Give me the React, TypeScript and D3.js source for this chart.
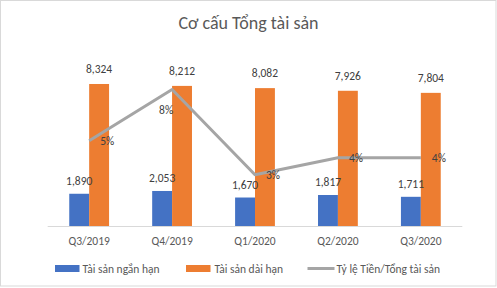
import React from "react";
import * as d3 from "d3";

const categories = ["Q3/2019", "Q4/2019", "Q1/2020", "Q2/2020", "Q3/2020"];
const shortTerm = [1890, 2053, 1670, 1817, 1711];
const longTerm = [8324, 8212, 8082, 7926, 7804];
const cashRatio = [0.05, 0.08, 0.03, 0.04, 0.04];
const seriesNames = ["Tài sản ngắn hạn", "Tài sản dài hạn", "Tỷ lệ Tiền/Tổng tài sản"];
const title = "Cơ cấu Tổng tài sản";

const W = 497;
const H = 288;
const FONT = "Calibri, Carlito, Lato, sans-serif";
const BLUE = "#4472C4";
const ORANGE = "#ED7D31";
const GREY = "#A5A5A5";

export default function App() {
  const left = 47.7, right = 462.3, top = 55.4, bottom = 226;
  const x0 = d3.scaleBand<string>().domain(categories).range([left, right]).paddingInner(0.52).paddingOuter(0.26);
  const x1 = d3.scaleBand<string>().domain(["s", "l"]).range([0, x0.bandwidth()]);
  const y = d3.scaleLinear().domain([0, 10000]).range([bottom, top]);
  const y2 = d3.scaleLinear().domain([0, 0.1]).range([bottom, top]);
  const cx = (c: string) => (x0(c) as number) + x0.bandwidth() / 2;
  const line = d3.line<number>().x((_, i) => cx(categories[i])).y((d) => y2(d));
  const fmt = d3.format(",");
  const pct = d3.format(".0%");
  const labelPos = ["right", "below", "right", "right", "right"];

  return (
    <svg width={W} height={H} style={{ position: "absolute", left: 0, top: 0, background: "#fff" }} fontFamily={FONT}>
      <rect x={0.5} y={0.5} width={495.5} height={285.5} fill="#fff" stroke="#d9d9d9" />
      <text x={248.5} y={28.5} textAnchor="middle" fontSize={18} fill="#595959">{title}</text>
      {categories.map((c, i) => (
        <g key={c}>
          <rect x={(x0(c) as number) + (x1("s") as number)} y={y(shortTerm[i])} width={x1.bandwidth()} height={bottom - y(shortTerm[i])} fill={BLUE} />
          <rect x={(x0(c) as number) + (x1("l") as number)} y={y(longTerm[i])} width={x1.bandwidth()} height={bottom - y(longTerm[i])} fill={ORANGE} />
        </g>
      ))}
      <line x1={left} x2={right} y1={bottom + 0.5} y2={bottom + 0.5} stroke="#d9d9d9" />
      {categories.map((c) => (
        <text key={c} x={cx(c)} y={245} textAnchor="middle" fontSize={11.5} fill="#595959">{c}</text>
      ))}
      <path d={line(cashRatio) || ""} fill="none" stroke={GREY} strokeWidth={3} strokeLinejoin="round" />
      {categories.map((c, i) => (
        <g key={c} fontSize={11.5} fill="#404040">
          <text x={(x0(c) as number) + (x1("s") as number) + x1.bandwidth() / 2} y={y(shortTerm[i]) - 9} textAnchor="middle">{fmt(shortTerm[i])}</text>
          <text x={(x0(c) as number) + (x1("l") as number) + x1.bandwidth() / 2} y={y(longTerm[i]) - 11} textAnchor="middle">{fmt(longTerm[i])}</text>
          {labelPos[i] === "right" ? (
            <text x={cx(c) + 11} y={y2(cashRatio[i])} dy="0.35em" textAnchor="start">{pct(cashRatio[i])}</text>
          ) : (
            <text x={cx(c) - 6} y={y2(cashRatio[i]) + 20} dy="0.35em" textAnchor="middle">{pct(cashRatio[i])}</text>
          )}
        </g>
      ))}
      <g fontSize={11.5} fill="#595959">
        <rect x={55} y={265} width={24.5} height={7} fill={BLUE} />
        <text x={82.5} y={268.5} dy="0.35em">{seriesNames[0]}</text>
        <rect x={186} y={265} width={24.5} height={7} fill={ORANGE} />
        <text x={214.5} y={268.5} dy="0.35em">{seriesNames[1]}</text>
        <line x1={307.5} x2={334.5} y1={268.5} y2={268.5} stroke={GREY} strokeWidth={3} />
        <text x={336.5} y={268.5} dy="0.35em">{seriesNames[2]}</text>
      </g>
    </svg>
  );
}
